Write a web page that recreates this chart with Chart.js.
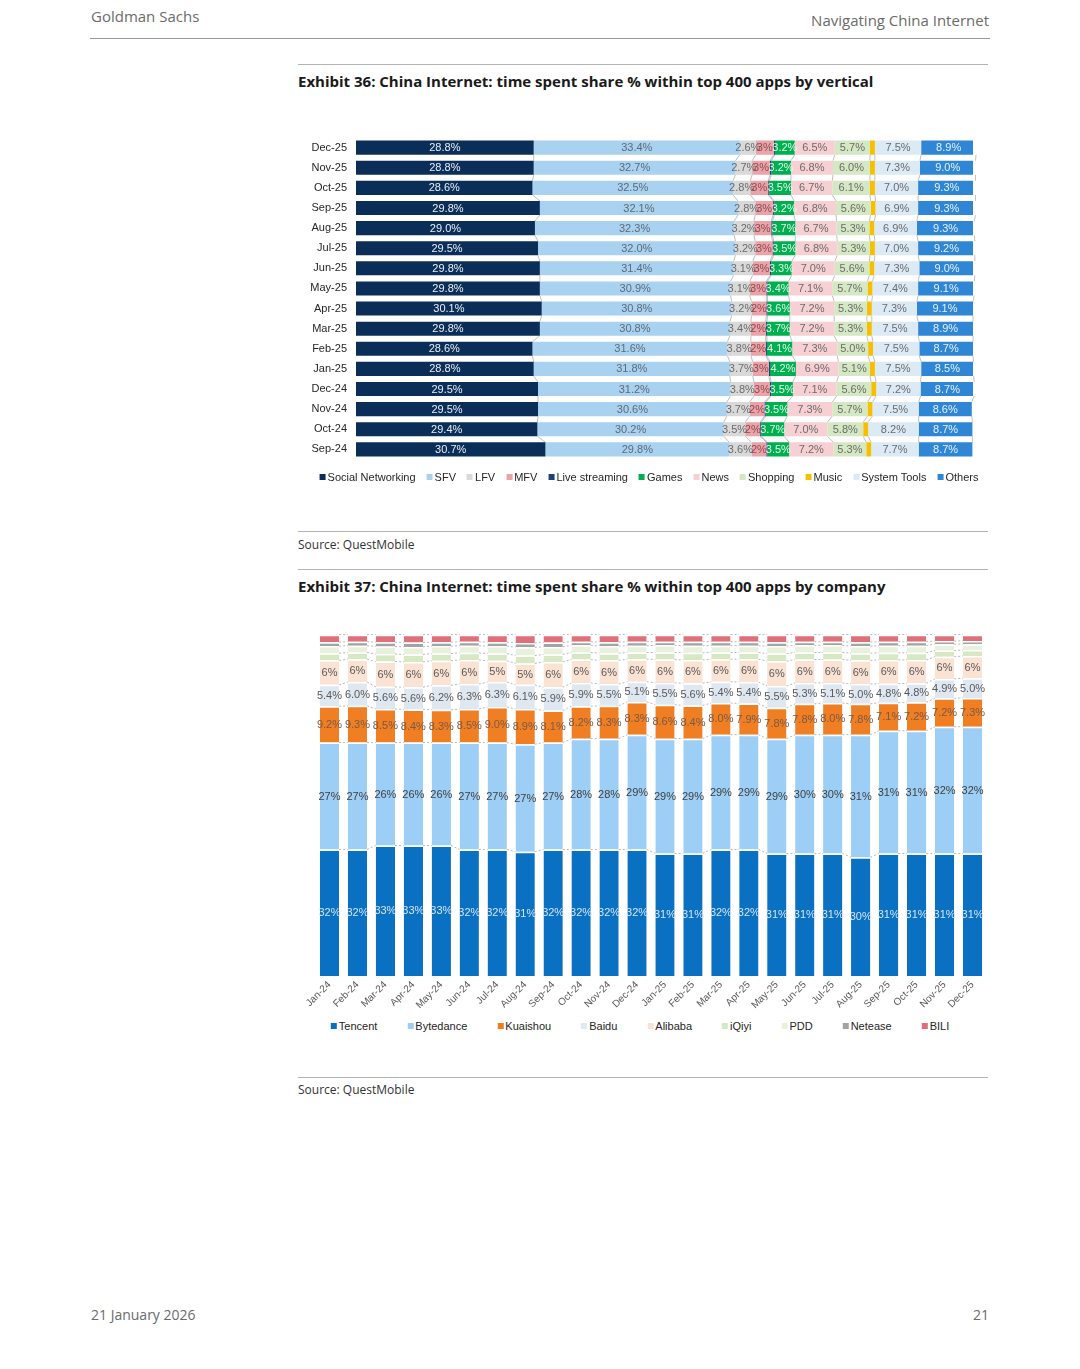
<!DOCTYPE html>
<html>
<head>
<meta charset="utf-8">
<script src="https://cdn.jsdelivr.net/npm/chart.js@4.4.1/dist/chart.umd.min.js"></script>
<style>
  body { margin: 0; background: #fff; }
  #page { position: relative; width: 1080px; height: 1369px; overflow: hidden; font-family: "Open Sans", "Noto Sans", sans-serif; }
  .t { position: absolute; line-height: 1; white-space: nowrap; }
  .rule { position: absolute; height: 1px; background: #b3b3b3; }
  .box { position: absolute; }
  .legend { position: absolute; transform: translateX(-50%); display: flex; white-space: nowrap;
            font-family: "Liberation Sans", Arial, sans-serif; font-size: 11px; color: #262626; line-height: 1; }
  .legend span.sw { display: inline-block; width: 6px; height: 6px; margin-right: 2px; vertical-align: 1px; }
</style>
</head>
<body>
<div id="page">
  <div class="t" style="left:91px;top:9px;font-size:15px;color:#6b6b6b;">Goldman Sachs</div>
  <div class="t" style="right:91px;top:13px;font-size:15px;color:#6b6b6b;">Navigating China Internet</div>
  <div class="rule" style="left:90px;top:38px;width:900px;background:#9a9a9a;"></div>

  <div class="rule" style="left:298px;top:64px;width:690px;"></div>
  <div class="t" style="left:298px;top:74px;font-size:15px;font-weight:700;color:#1a1a1a;">Exhibit 36: China Internet: time spent share % within top 400 apps by vertical</div>
  <div class="box" style="left:300px;top:122px;width:690px;height:353px;"><canvas id="chart36"></canvas></div>
  <div class="legend" id="legend36" style="left:649px;top:472px;gap:11px;"></div>
  <div class="rule" style="left:298px;top:531px;width:690px;"></div>
  <div class="t" style="left:298px;top:539px;font-size:12px;color:#333;">Source: QuestMobile</div>

  <div class="rule" style="left:298px;top:569px;width:690px;"></div>
  <div class="t" style="left:298px;top:579px;font-size:15px;font-weight:700;color:#1a1a1a;">Exhibit 37: China Internet: time spent share % within top 400 apps by company</div>
  <div class="box" style="left:300px;top:610px;width:690px;height:408px;"><canvas id="chart37"></canvas></div>
  <div class="legend" id="legend37" style="left:640px;top:1021px;gap:30px;"></div>
  <div class="rule" style="left:298px;top:1077px;width:690px;"></div>
  <div class="t" style="left:298px;top:1084px;font-size:12px;color:#333;">Source: QuestMobile</div>

  <div class="t" style="left:91px;top:1308px;font-size:14px;color:#6b6b6b;">21 January 2026</div>
  <div class="t" style="right:91px;top:1308px;font-size:14px;color:#6b6b6b;">21</div>
</div>

<script>
// ---- Exhibit 36 data (top row first) ----
let months36 = ["Dec-25", "Nov-25", "Oct-25", "Sep-25", "Aug-25", "Jul-25", "Jun-25", "May-25",
                "Apr-25", "Mar-25", "Feb-25", "Jan-25", "Dec-24", "Nov-24", "Oct-24", "Sep-24"];
let socialNetworking = [28.8, 28.8, 28.6, 29.8, 29.0, 29.5, 29.8, 29.8, 30.1, 29.8, 28.6, 28.8, 29.5, 29.5, 29.4, 30.7];
let sfv = [33.4, 32.7, 32.5, 32.1, 32.3, 32.0, 31.4, 30.9, 30.8, 30.8, 31.6, 31.8, 31.2, 30.6, 30.2, 29.8];
let lfv = [2.6, 2.7, 2.8, 2.8, 3.2, 3.2, 3.1, 3.1, 3.2, 3.4, 3.8, 3.7, 3.8, 3.7, 3.5, 3.6];
let mfv = [2.9, 2.9, 2.9, 2.9, 2.8, 2.8, 2.8, 2.7, 2.4, 2.4, 2.4, 2.6, 2.6, 2.4, 2.4, 2.4];
let liveStreaming = [0.2, 0.2, 0.2, 0.2, 0.2, 0.2, 0.2, 0.2, 0.2, 0.2, 0.2, 0.2, 0.2, 0.2, 0.2, 0.2];
let games = [3.2, 3.2, 3.5, 3.2, 3.7, 3.5, 3.3, 3.4, 3.6, 3.7, 4.1, 4.2, 3.5, 3.5, 3.7, 3.5];
let news = [6.5, 6.8, 6.7, 6.8, 6.7, 6.8, 7.0, 7.1, 7.2, 7.2, 7.3, 6.9, 7.1, 7.3, 7.0, 7.2];
let shopping = [5.7, 6.0, 6.1, 5.6, 5.3, 5.3, 5.6, 5.7, 5.3, 5.3, 5.0, 5.1, 5.6, 5.7, 5.8, 5.3];
let music = [0.8, 0.8, 0.8, 0.8, 0.8, 0.8, 0.8, 0.8, 0.8, 0.8, 0.8, 0.8, 0.8, 0.8, 0.8, 0.8];
let systemTools = [7.5, 7.3, 7.0, 6.9, 6.9, 7.0, 7.3, 7.4, 7.3, 7.5, 7.5, 7.5, 7.2, 7.5, 8.2, 7.7];
let others = [8.9, 9.0, 9.3, 9.3, 9.3, 9.2, 9.0, 9.1, 9.1, 8.9, 8.7, 8.5, 8.7, 8.6, 8.7, 8.7];

// ---- Exhibit 37 data (Jan-24 .. Dec-25) ----
let months37 = ["Jan-24", "Feb-24", "Mar-24", "Apr-24", "May-24", "Jun-24", "Jul-24", "Aug-24",
                "Sep-24", "Oct-24", "Nov-24", "Dec-24", "Jan-25", "Feb-25", "Mar-25", "Apr-25",
                "May-25", "Jun-25", "Jul-25", "Aug-25", "Sep-25", "Oct-25", "Nov-25", "Dec-25"];
let tencent = [32, 32, 33, 33, 33, 32, 32, 31.4, 32, 32, 32, 32, 31, 31, 32, 32, 31, 31, 31, 30, 31, 31, 31, 31];
let bytedance = [27, 27, 26, 26, 26, 27, 27, 27.2, 27, 28, 28, 29, 29, 29, 29, 29, 29, 30, 30, 31, 31, 31, 32, 32];
let kuaishou = [9.2, 9.3, 8.5, 8.4, 8.3, 8.5, 9.0, 8.9, 8.1, 8.2, 8.3, 8.3, 8.6, 8.4, 8.0, 7.9, 7.8, 7.8, 8.0, 7.8, 7.1, 7.2, 7.2, 7.3];
let baidu = [5.4, 6.0, 5.6, 5.6, 6.2, 6.3, 6.3, 6.1, 5.9, 5.9, 5.5, 5.1, 5.5, 5.6, 5.4, 5.4, 5.5, 5.3, 5.1, 5.0, 4.8, 4.8, 4.9, 5.0];
let alibaba = [6.2, 5.8, 6.4, 6.4, 6.2, 6.1, 5.4, 5.4, 6.4, 5.9, 6.0, 5.7, 5.9, 5.9, 5.7, 5.8, 6.3, 5.9, 5.9, 6.0, 6.0, 5.9, 5.6, 5.6];
let iqiyi = [1.8, 1.7, 1.9, 1.9, 1.8, 1.8, 1.8, 2.0, 1.9, 1.8, 1.8, 1.7, 1.8, 1.8, 1.7, 1.7, 1.9, 1.8, 1.8, 1.8, 1.8, 1.8, 1.6, 1.5];
let pdd = [1.8, 1.7, 1.9, 1.9, 1.9, 1.8, 1.9, 2.1, 1.9, 1.8, 1.8, 1.7, 1.8, 1.8, 1.7, 1.7, 1.9, 1.8, 1.8, 1.8, 1.8, 1.8, 1.6, 1.5];
let netease = [1.0, 1.0, 1.1, 1.1, 1.0, 1.0, 1.0, 1.1, 1.1, 0.9, 1.0, 1.0, 0.9, 1.0, 1.0, 1.0, 1.0, 0.9, 0.9, 1.0, 1.0, 1.0, 0.8, 0.8];
let bili = [1.9, 1.8, 1.9, 2.0, 1.9, 1.8, 1.9, 2.1, 2.0, 1.8, 1.9, 1.8, 1.8, 1.8, 1.8, 1.8, 1.9, 1.8, 1.8, 1.9, 1.8, 1.8, 1.6, 1.6];

Chart.defaults.font.family = '"Liberation Sans", Arial, sans-serif';
Chart.defaults.animation = false;

// draws the % label in the middle of every bar segment that asks for one
let segLabels = {
  id: "segLabels",
  afterDatasetsDraw(chart) {
    let ctx = chart.ctx;
    ctx.save();
    ctx.font = '11px "Liberation Sans", Arial, sans-serif';
    ctx.textAlign = "center";
    ctx.textBaseline = "middle";
    chart.data.datasets.forEach((ds, i) => {
      if (!ds.labelColor) return;
      chart.getDatasetMeta(i).data.forEach((bar, j) => {
        let p = bar.getCenterPoint();
        ctx.fillStyle = ds.labelColor;
        ctx.fillText(ds.data[j].toFixed(ds.decimals) + "%", p.x, p.y + 0.5);
      });
    });
    ctx.restore();
  },
};

// excel-style series lines: join the end of each segment to the same segment in the next bar
let seriesLines = {
  id: "seriesLines",
  beforeDatasetsDraw(chart, args, opts) {
    let ctx = chart.ctx;
    let horizontal = chart.options.indexAxis === "y";
    ctx.save();
    ctx.strokeStyle = opts.color || "#a6a6a6";
    ctx.lineWidth = opts.width || 0.8;
    ctx.setLineDash(opts.dash || []);
    chart.data.datasets.forEach((ds, i) => {
      let bars = chart.getDatasetMeta(i).data;
      for (let j = 0; j < bars.length - 1; j++) {
        let a = bars[j], b = bars[j + 1];
        ctx.beginPath();
        if (horizontal) {
          ctx.moveTo(a.x, a.y + a.height / 2);
          ctx.lineTo(b.x, b.y - b.height / 2);
        } else {
          ctx.moveTo(a.x + a.width / 2, a.y);
          ctx.lineTo(b.x - b.width / 2, b.y);
        }
        ctx.stroke();
      }
    });
    ctx.restore();
  },
};

function makeLegend(id, datasets) {
  let el = document.getElementById(id);
  datasets.forEach((ds) => {
    let item = document.createElement("div");
    item.innerHTML = '<span class="sw" style="background:' + ds.backgroundColor + '"></span>' + ds.label;
    el.appendChild(item);
  });
}

renderVerticalChart();
renderCompanyChart();

function renderVerticalChart() {
  let seg = (label, data, color, labelColor, decimals) => ({
    label, data, backgroundColor: color, labelColor, decimals,
    barPercentage: 0.7, categoryPercentage: 1.0,
  });
  let datasets = [
    seg("Social Networking", socialNetworking, "#0b2e59", "#e9eef5", 1),
    seg("SFV", sfv, "#a9d1f0", "#5d6b78", 1),
    seg("LFV", lfv, "#d9d9d9", "#6b6b6b", 1),
    seg("MFV", mfv, "#e9a3a9", "#8a4c50", 0),
    seg("Live streaming", liveStreaming, "#203f78", null, 1),
    seg("Games", games, "#00b050", "#e3f6ea", 1),
    seg("News", news, "#f6d0d3", "#6b6b6b", 1),
    seg("Shopping", shopping, "#d5e8c4", "#6b6b6b", 1),
    seg("Music", music, "#f6c000", null, 1),
    seg("System Tools", systemTools, "#dceaf6", "#6b6b6b", 1),
    seg("Others", others, "#2e86d4", "#e6f0fa", 1),
  ];
  new Chart(document.querySelector("#chart36"), {
    type: "bar",
    data: { labels: months36, datasets },
    plugins: [seriesLines, segLabels],
    options: {
      indexAxis: "y",
      responsive: true,
      maintainAspectRatio: false,
      layout: { padding: { left: 0, right: 17, top: 0, bottom: 0 } },
      plugins: {
        legend: { display: false },
        tooltip: { enabled: false },
        seriesLines: { color: "#b0b0b0", width: 0.8 },
      },
      scales: {
        x: { stacked: true, display: false, min: 0, max: 100 },
        y: {
          stacked: true,
          grid: { display: false, drawTicks: false },
          border: { display: false },
          ticks: { autoSkip: false, padding: 9, color: "#262626", font: { size: 11 } },
          afterFit: (scale) => { scale.width = 56; },
        },
      },
    },
  });
  makeLegend("legend36", datasets);
}

function renderCompanyChart() {
  let seg = (label, data, color, labelColor, decimals) => ({
    label, data, backgroundColor: color, labelColor, decimals,
    borderColor: "#ffffff", borderWidth: { top: 1.5, bottom: 0, left: 0, right: 0 }, borderSkipped: "start",
    barPercentage: 0.69, categoryPercentage: 1.0,
  });
  let datasets = [
    seg("Tencent", tencent, "#0a70c2", "#d3e5f7", 0),
    seg("Bytedance", bytedance, "#9dcff6", "#404040", 0),
    seg("Kuaishou", kuaishou, "#f07e22", "#7a5a48", 1),
    seg("Baidu", baidu, "#dfe7f1", "#595959", 1),
    seg("Alibaba", alibaba, "#fbe3d4", "#595959", 0),
    seg("iQiyi", iqiyi, "#d6e8c4", null, 1),
    seg("PDD", pdd, "#e7f1dc", null, 1),
    seg("Netease", netease, "#a3a3a3", null, 1),
    seg("BILI", bili, "#df707a", null, 1),
  ];
  new Chart(document.querySelector("#chart37"), {
    type: "bar",
    data: { labels: months37, datasets },
    plugins: [seriesLines, segLabels],
    options: {
      responsive: true,
      maintainAspectRatio: false,
      layout: { padding: { left: 15.5, right: 3.5, top: 10, bottom: 0 } },
      plugins: {
        legend: { display: false },
        tooltip: { enabled: false },
        seriesLines: { color: "#a6a6a6", width: 0.8, dash: [2, 2] },
      },
      scales: {
        x: {
          stacked: true,
          grid: { display: false, drawTicks: false },
          border: { display: false },
          ticks: { autoSkip: false, maxRotation: 45, minRotation: 45, padding: 3, color: "#595959", font: { size: 10 } },
          afterFit: (scale) => { scale.height = 42; },
        },
        y: { stacked: true, display: false, min: 0, max: 90 },
      },
    },
  });
  makeLegend("legend37", datasets);
}
</script>
</body>
</html>
